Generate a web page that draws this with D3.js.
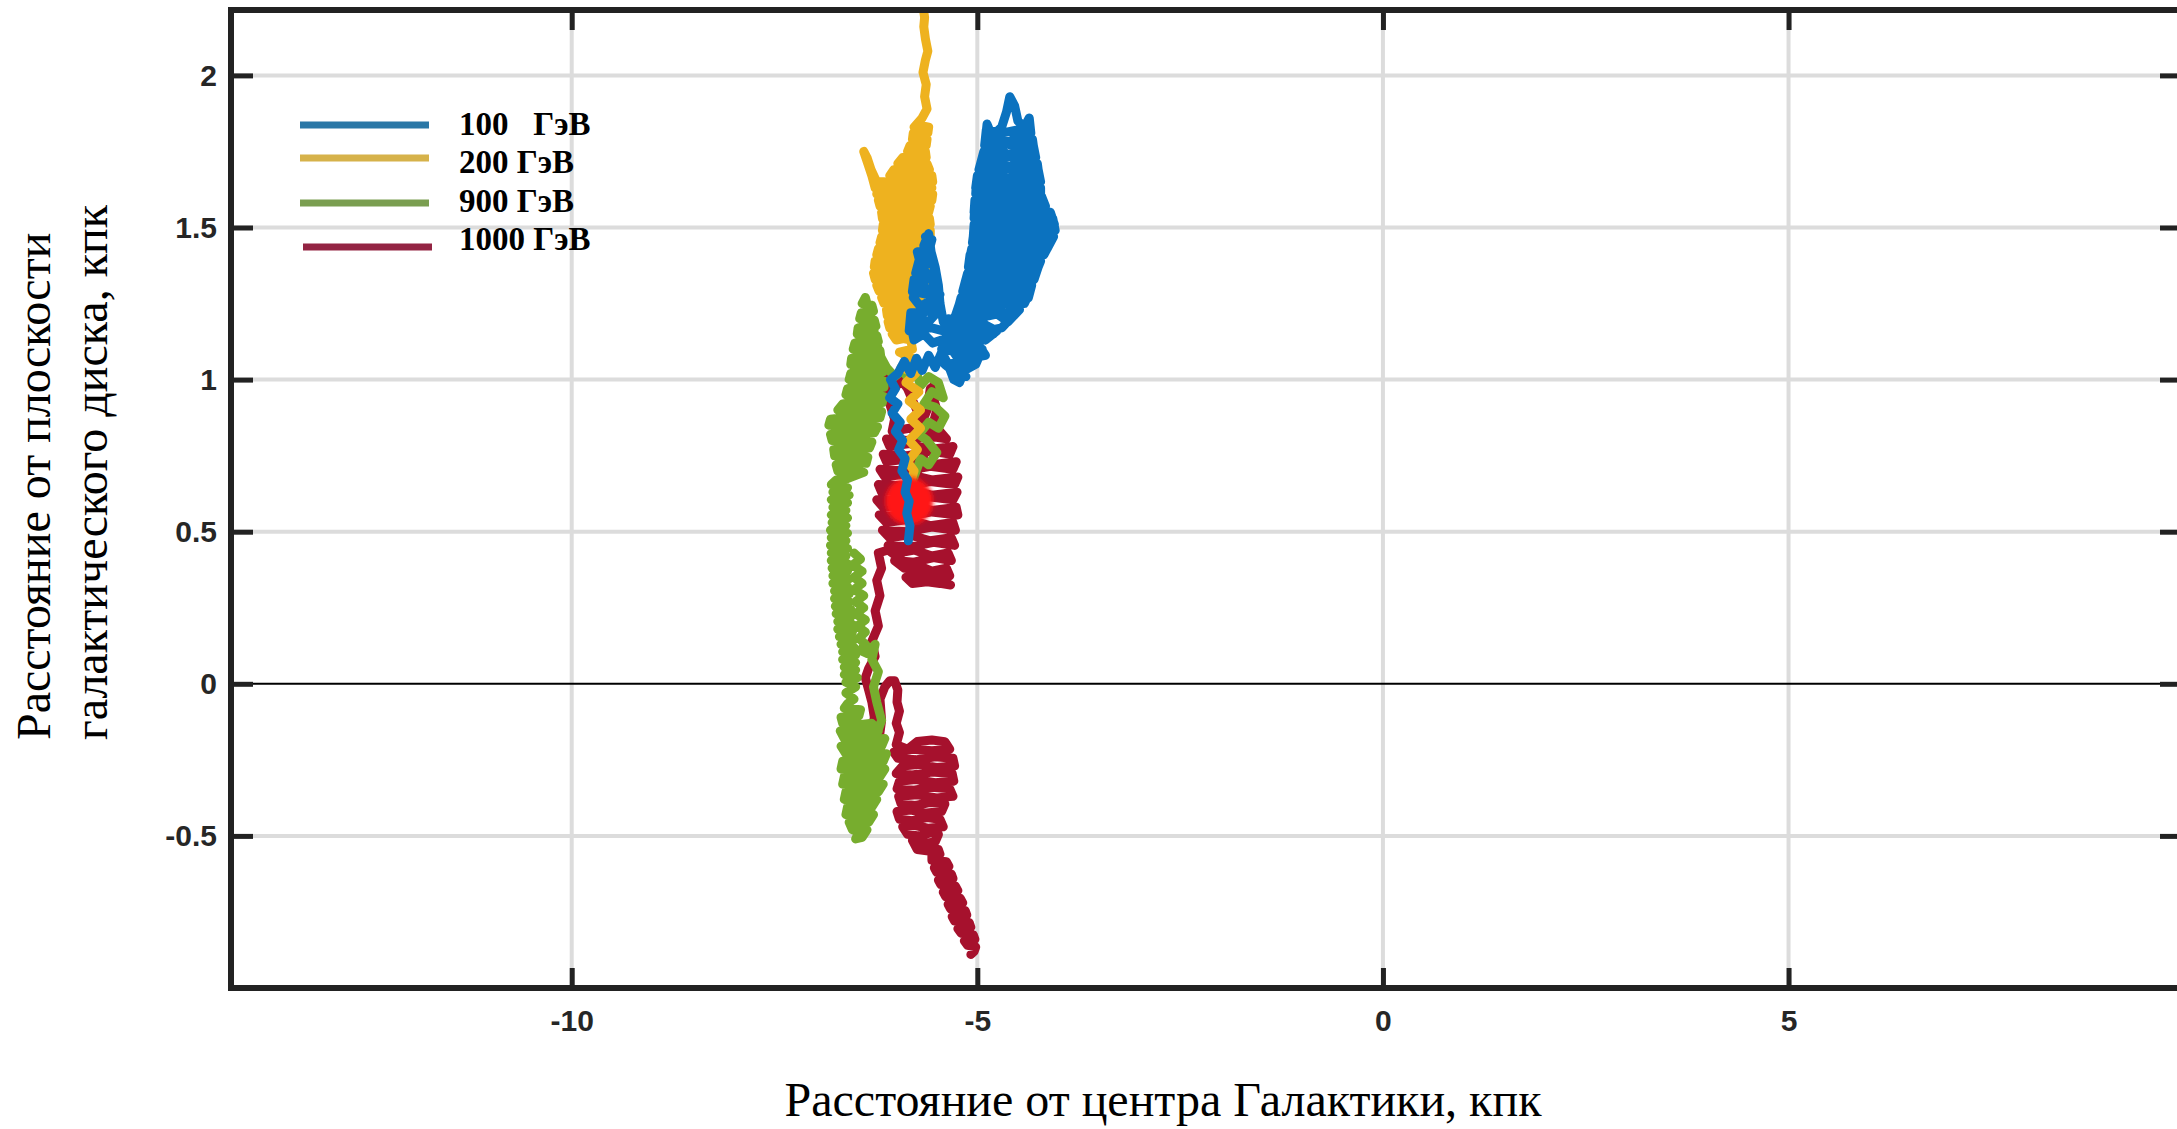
<!DOCTYPE html>
<html lang="ru">
<head>
<meta charset="UTF-8">
<title>Траектории частиц в Галактике</title>
<script src="https://d3js.org/d3.v7.min.js"></script>
<style>
    body { margin: 0; background: #fff; }
    svg { display: block; }
    .tick text { font-family: "Liberation Sans", Arial, sans-serif; font-weight: bold; font-size: 30px; fill: #262626; }
    .tick line { stroke: #222; stroke-width: 5; }
    .axis-title { font-family: "Liberation Serif", "Times New Roman", serif; font-size: 48px; fill: #000; }
    .legend-text { font-family: "Liberation Serif", "Times New Roman", serif; font-weight: bold; font-size: 33px; fill: #000; white-space: pre; }
</style>
</head>
<body>
<svg id="chart" width="2177" height="1129"></svg>
<script>
// axis ticks
const xTicks = [-10, -5, 0, 5];
const yTicks = [-0.5, 0, 0.5, 1, 1.5, 2];

// legend
const seriesNames = ["100   ГэВ", "200 ГэВ", "900 ГэВ", "1000 ГэВ"];
const legendColors = ["#2a77a6", "#d6b24a", "#7a9e50", "#932443"];
const trackColors = ["#0b72bf", "#eeb21f", "#77ad2e", "#a6112d"];

// starting point of the particles (kpc)
const source = [-5.84, 0.60];

// trajectories, [distance from centre, height above disk] in kpc
const track100 = [
    [-5.85,0.47],[-5.83,0.52],[-5.87,0.56],[-5.84,0.60],[-5.89,0.63],[-5.86,0.67],[-5.93,0.70],[-5.89,0.74],[-5.97,0.77],[-5.92,0.80],
    [-6.01,0.83],[-5.95,0.86],[-6.05,0.89],[-5.98,0.92],[-6.08,0.94],[-6.01,0.97],[-6.07,1.00],[-5.98,1.02],
    [-5.90,1.06],[-5.82,1.02],[-5.75,1.07],[-5.68,1.03],[-5.60,1.08],[-5.52,1.04],[-5.44,1.09],[-5.36,1.05],[-5.29,1.00],[-5.22,0.99],
    [-5.16,1.03],[-5.02,1.05],[-4.94,1.10],[-5.08,1.09],[-5.24,1.07],[-5.34,1.11],[-5.44,1.13],
    [-5.55,1.12],[-5.66,1.15],[-5.78,1.13],[-5.82,1.18],[-5.72,1.20],[-5.60,1.19],[-5.50,1.22],[-5.58,1.26],[-5.70,1.24],[-5.79,1.27],
    [-5.74,1.31],[-5.62,1.30],[-5.52,1.29],[-5.56,1.34],[-5.68,1.36],[-5.76,1.35],[-5.71,1.40],[-5.62,1.39],[-5.66,1.44],[-5.60,1.48],
    [-5.57,1.42],[-5.52,1.37],[-5.48,1.31],[-5.46,1.25],[-5.42,1.19],
    [-5.32,1.15],[-5.18,1.13],[-5.04,1.15],[-4.90,1.13],[-4.76,1.16],[-4.90,1.18],[-5.06,1.17],[-5.30,1.19],
    [-5.14,1.21],[-4.96,1.20],[-4.78,1.22],[-4.62,1.19],
    [-4.48,1.23],[-4.66,1.25],[-4.86,1.23],[-5.05,1.25],[-5.24,1.23],
    [-5.20,1.27],[-5.00,1.28],[-4.80,1.26],[-4.58,1.28],[-4.37,1.27],
    [-4.33,1.31],[-4.54,1.32],[-4.74,1.30],[-4.95,1.32],[-5.16,1.31],
    [-5.12,1.35],[-4.90,1.36],[-4.70,1.34],[-4.50,1.36],[-4.28,1.35],
    [-4.22,1.39],[-4.44,1.40],[-4.66,1.38],[-4.88,1.40],[-5.10,1.39],
    [-5.07,1.43],[-4.84,1.44],[-4.60,1.42],[-4.38,1.44],[-4.14,1.43],
    [-4.06,1.47],[-4.30,1.48],[-4.56,1.46],[-4.80,1.48],[-5.05,1.47],
    [-5.04,1.51],[-4.78,1.52],[-4.54,1.50],[-4.30,1.52],[-4.05,1.51],
    [-4.10,1.55],[-4.34,1.56],[-4.58,1.54],[-4.82,1.56],[-5.04,1.55],
    [-5.03,1.59],[-4.82,1.60],[-4.62,1.58],[-4.42,1.60],[-4.22,1.59],
    [-4.22,1.63],[-4.42,1.64],[-4.62,1.62],[-4.82,1.64],[-5.02,1.63],
    [-5.00,1.67],[-4.80,1.68],[-4.62,1.66],[-4.44,1.68],[-4.24,1.67],
    [-4.26,1.71],[-4.44,1.72],[-4.60,1.70],[-4.78,1.72],[-4.96,1.71],
    [-4.92,1.75],[-4.76,1.76],[-4.62,1.74],[-4.46,1.76],[-4.30,1.75],
    [-4.32,1.79],[-4.48,1.80],[-4.62,1.78],[-4.76,1.80],[-4.90,1.79],
    [-4.88,1.84],[-4.82,1.80],[-4.70,1.83],[-4.64,1.88],[-4.60,1.93],[-4.54,1.90],[-4.50,1.85],[-4.42,1.83],[-4.36,1.86],
    [-4.34,1.81],[-4.52,1.82],[-4.70,1.81],[-4.89,1.82],
    [-4.91,1.77],[-4.74,1.78],[-4.56,1.77],[-4.40,1.78],[-4.31,1.77],
    [-4.28,1.73],[-4.46,1.74],[-4.66,1.73],[-4.82,1.74],[-4.94,1.73],
    [-4.98,1.69],[-4.84,1.70],[-4.66,1.69],[-4.46,1.70],[-4.25,1.69],
    [-4.22,1.65],[-4.40,1.66],[-4.60,1.65],[-4.80,1.66],[-5.01,1.65],
    [-5.02,1.61],[-4.80,1.62],[-4.60,1.61],[-4.40,1.62],[-4.22,1.61],
    [-4.16,1.57],[-4.36,1.58],[-4.60,1.57],[-4.82,1.58],[-5.03,1.57],
    [-5.04,1.53],[-4.80,1.54],[-4.56,1.53],[-4.30,1.54],[-4.07,1.53],
    [-4.04,1.49],[-4.28,1.50],[-4.54,1.49],[-4.80,1.50],[-5.04,1.49],
    [-5.06,1.45],[-4.82,1.46],[-4.58,1.45],[-4.34,1.46],[-4.10,1.45],
    [-4.18,1.41],[-4.40,1.42],[-4.64,1.41],[-4.86,1.42],[-5.09,1.41],
    [-5.11,1.37],[-4.90,1.38],[-4.68,1.37],[-4.48,1.38],[-4.25,1.37],
    [-4.30,1.33],[-4.52,1.34],[-4.72,1.33],[-4.92,1.34],[-5.14,1.33],
    [-5.18,1.29],[-4.98,1.30],[-4.78,1.29],[-4.56,1.30],[-4.35,1.29],
    [-4.42,1.25],[-4.62,1.26],[-4.84,1.25],[-5.04,1.26],[-5.22,1.25],
    [-5.27,1.21],[-5.06,1.22],[-4.86,1.21],[-4.68,1.22],[-4.56,1.21],
    [-4.70,1.17],[-4.88,1.16],[-5.06,1.17],[-5.24,1.16],[-5.36,1.17],
    [-5.40,1.12],[-5.20,1.11],[-5.00,1.12],[-4.90,1.08],[-5.08,1.07],[-5.22,1.04],[-5.14,1.01],[-5.26,1.02],
    [-5.40,1.05],[-5.12,1.06],[-4.94,1.10],[-5.20,1.09],[-5.44,1.10],[-5.30,1.14],[-5.02,1.14],[-4.80,1.15],[-5.10,1.19],[-5.36,1.20],
    [-5.42,1.16],[-5.56,1.17],[-5.70,1.17],[-5.84,1.16],[-5.82,1.22],[-5.66,1.22],[-5.52,1.24],[-5.46,1.28],[-5.62,1.28],[-5.80,1.29],
    [-5.78,1.33],[-5.60,1.33],[-5.50,1.33],[-5.54,1.38],[-5.70,1.38],[-5.74,1.42],[-5.60,1.42],[-5.56,1.46],[-5.64,1.47]
];

const track200 = [
    [-5.88,0.60],[-5.84,0.65],[-5.78,0.70],[-5.86,0.73],[-5.74,0.77],[-5.84,0.80],[-5.70,0.84],[-5.82,0.87],[-5.70,0.90],[-5.84,0.93],
    [-5.72,0.96],[-5.88,0.99],[-5.76,1.02],[-5.94,1.04],[-5.80,1.07],[-5.96,1.09],[-5.80,1.10],
    [-5.82,1.13],[-5.91,1.135],[-6.00,1.13],
    [-6.05,1.15],[-5.92,1.155],[-5.80,1.15],
    [-5.79,1.17],[-5.94,1.175],[-6.08,1.17],
    [-6.10,1.19],[-5.94,1.195],[-5.78,1.19],
    [-5.76,1.21],[-5.94,1.215],[-6.11,1.21],
    [-6.12,1.23],[-5.93,1.235],[-5.74,1.23],
    [-5.72,1.25],[-5.94,1.255],[-6.15,1.25],
    [-6.18,1.27],[-5.94,1.275],[-5.70,1.27],
    [-5.68,1.29],[-5.94,1.295],[-6.21,1.29],
    [-6.24,1.31],[-5.95,1.315],[-5.66,1.31],
    [-5.64,1.33],[-5.95,1.335],[-6.26,1.33],
    [-6.28,1.35],[-5.95,1.355],[-5.62,1.35],
    [-5.61,1.37],[-5.94,1.375],[-6.27,1.37],
    [-6.26,1.39],[-5.93,1.395],[-5.60,1.39],
    [-5.59,1.41],[-5.92,1.415],[-6.24,1.41],
    [-6.22,1.43],[-5.90,1.435],[-5.58,1.43],
    [-5.58,1.45],[-5.89,1.455],[-6.20,1.45],
    [-6.18,1.47],[-5.88,1.475],[-5.58,1.47],
    [-5.58,1.49],[-5.88,1.495],[-6.17,1.49],
    [-6.16,1.51],[-5.87,1.515],[-5.58,1.51],
    [-5.59,1.53],[-5.88,1.535],[-6.17,1.53],
    [-6.18,1.55],[-5.89,1.555],[-5.60,1.55],
    [-5.58,1.57],[-5.89,1.575],[-6.20,1.57],
    [-6.22,1.59],[-5.89,1.595],[-5.56,1.59],
    [-5.55,1.61],[-5.90,1.615],[-6.24,1.61],
    [-5.90,1.63],[-5.56,1.63],[-5.90,1.64],
    [-6.26,1.63],[-6.30,1.67],[-6.35,1.71],[-6.40,1.75],[-6.36,1.73],[-6.31,1.69],[-6.24,1.65],[-6.14,1.65],
    [-5.85,1.655],[-5.55,1.65],
    [-5.56,1.67],[-5.82,1.675],[-6.08,1.67],
    [-6.03,1.69],[-5.81,1.695],[-5.59,1.69],
    [-5.62,1.71],[-5.80,1.715],[-5.98,1.71],
    [-5.92,1.73],[-5.78,1.735],[-5.63,1.73],
    [-5.64,1.75],[-5.75,1.755],[-5.86,1.75],
    [-5.83,1.77],[-5.73,1.775],[-5.63,1.77],
    [-5.62,1.79],[-5.71,1.795],[-5.80,1.79],
    [-5.79,1.81],[-5.70,1.815],[-5.61,1.81],
    [-5.60,1.83],[-5.69,1.835],[-5.78,1.83],
    [-5.68,1.86],[-5.62,1.89],[-5.65,1.93],[-5.63,1.97],[-5.67,2.01],[-5.64,2.05],[-5.61,2.08],[-5.64,2.12],[-5.66,2.16],[-5.65,2.19],[-5.67,2.23]
];

const track900 = [
    [-5.86,0.62],[-5.78,0.68],[-5.70,0.74],[-5.60,0.72],[-5.50,0.76],[-5.62,0.80],[-5.72,0.82],[-5.60,0.86],[-5.48,0.84],[-5.40,0.88],
    [-5.52,0.91],[-5.66,0.92],[-5.56,0.96],[-5.42,0.94],[-5.48,0.99],[-5.60,1.01],[-5.70,0.98],[-5.76,1.03],[-5.84,1.00],
    [-5.92,1.03],[-6.02,1.01],[-6.12,1.04],[-6.20,1.08],[-6.26,1.14],[-6.30,1.20],[-6.36,1.25],[-6.38,1.27],
    [-6.42,1.25],[-6.30,1.245],
    [-6.28,1.225],[-6.43,1.22],
    [-6.45,1.20],[-6.27,1.195],
    [-6.25,1.175],[-6.36,1.18],[-6.47,1.17],
    [-6.48,1.15],[-6.36,1.155],[-6.24,1.145],
    [-6.22,1.125],[-6.36,1.13],[-6.51,1.12],
    [-6.53,1.10],[-6.36,1.105],[-6.20,1.095],
    [-6.19,1.075],[-6.38,1.08],[-6.55,1.07],
    [-6.56,1.05],[-6.36,1.055],[-6.18,1.045],
    [-6.16,1.025],[-6.36,1.03],[-6.56,1.02],
    [-6.58,1.00],[-6.36,1.005],[-6.15,0.995],
    [-6.15,0.975],[-6.38,0.98],[-6.60,0.97],
    [-6.62,0.95],[-6.38,0.955],[-6.16,0.945],
    [-6.17,0.925],[-6.42,0.93],[-6.66,0.92],
    [-6.72,0.90],[-6.46,0.905],[-6.18,0.895],
    [-6.20,0.875],[-6.50,0.88],[-6.81,0.87],
    [-6.83,0.85],[-6.52,0.855],[-6.23,0.845],
    [-6.27,0.825],[-6.54,0.83],[-6.81,0.82],
    [-6.79,0.80],[-6.54,0.805],[-6.30,0.795],
    [-6.33,0.775],[-6.56,0.78],[-6.77,0.77],
    [-6.76,0.75],[-6.56,0.755],[-6.35,0.745],
    [-6.37,0.725],[-6.56,0.73],[-6.74,0.72],
    [-6.72,0.70],[-6.56,0.705],[-6.40,0.695],
    [-6.60,0.675],[-6.74,0.67],
    [-6.80,0.655],[-6.60,0.645],[-6.78,0.63],[-6.58,0.62],[-6.80,0.605],[-6.60,0.595],[-6.78,0.58],[-6.62,0.57],[-6.80,0.555],[-6.60,0.545],
    [-6.79,0.53],[-6.62,0.52],[-6.81,0.505],[-6.60,0.495],[-6.80,0.48],[-6.62,0.47],[-6.81,0.455],[-6.60,0.445],[-6.80,0.43],[-6.62,0.42],
    [-6.80,0.405],[-6.60,0.395],[-6.79,0.38],[-6.60,0.37],[-6.78,0.355],[-6.58,0.345],[-6.78,0.33],[-6.60,0.32],[-6.76,0.305],[-6.58,0.295],
    [-6.76,0.28],[-6.58,0.27],[-6.75,0.255],[-6.56,0.245],[-6.74,0.23],[-6.56,0.22],[-6.72,0.205],[-6.54,0.195],[-6.72,0.18],[-6.54,0.17],
    [-6.70,0.155],[-6.52,0.145],[-6.68,0.13],[-6.52,0.12],[-6.66,0.105],[-6.50,0.095],[-6.66,0.08],[-6.50,0.07],[-6.64,0.055],[-6.50,0.045],
    [-6.64,0.03],[-6.48,0.02],[-6.62,0.005],[-6.50,-0.01],[-6.62,-0.03],[-6.52,-0.05],[-6.60,-0.065],
    [-6.64,-0.08],[-6.44,-0.085],
    [-6.46,-0.105],[-6.68,-0.11],
    [-6.66,-0.13],[-6.48,-0.135],[-6.30,-0.13],
    [-6.22,-0.155],[-6.46,-0.16],[-6.69,-0.155],
    [-6.64,-0.18],[-6.40,-0.185],[-6.14,-0.18],
    [-6.18,-0.205],[-6.44,-0.21],[-6.68,-0.205],
    [-6.62,-0.23],[-6.38,-0.235],[-6.12,-0.23],
    [-6.16,-0.255],[-6.40,-0.26],[-6.66,-0.255],
    [-6.68,-0.28],[-6.42,-0.285],[-6.14,-0.28],
    [-6.20,-0.305],[-6.42,-0.31],[-6.64,-0.305],
    [-6.66,-0.33],[-6.40,-0.335],[-6.16,-0.33],
    [-6.22,-0.355],[-6.42,-0.36],[-6.62,-0.355],
    [-6.64,-0.38],[-6.44,-0.385],[-6.24,-0.38],
    [-6.30,-0.405],[-6.46,-0.41],[-6.60,-0.405],
    [-6.62,-0.43],[-6.44,-0.435],[-6.28,-0.43],
    [-6.34,-0.455],[-6.46,-0.46],[-6.58,-0.455],
    [-6.54,-0.48],[-6.44,-0.485],[-6.36,-0.48],
    [-6.42,-0.505],[-6.50,-0.51],
    [-6.30,-0.40],[-6.20,-0.30],
    [-6.20,-0.24],[-6.26,-0.18],[-6.18,-0.12],[-6.24,-0.06],[-6.28,-0.01],[-6.22,0.04],[-6.30,0.08],[-6.26,0.13],
    [-6.36,0.10],[-6.44,0.11],[-6.38,0.13],[-6.46,0.15],[-6.38,0.17],[-6.48,0.19],[-6.38,0.21],[-6.50,0.23],[-6.40,0.25],[-6.50,0.27],
    [-6.40,0.29],[-6.52,0.31],[-6.42,0.33],[-6.52,0.35],[-6.42,0.37],[-6.54,0.39],[-6.44,0.41],[-6.52,0.43]
];

const track1000 = [
    [-5.88,0.60],[-5.80,0.66],[-5.70,0.72],[-5.62,0.78],[-5.56,0.84],[-5.50,0.90],[-5.55,0.95],[-5.49,0.99],[-5.58,0.97],[-5.62,0.90],
    [-5.68,0.86],[-5.78,0.92],[-5.86,0.97],[-5.94,1.00],[-6.02,0.97],[-6.10,1.02],[-6.14,0.98],[-6.08,0.92],[-6.02,0.87],
    [-6.05,0.83],[-5.84,0.84],[-5.64,0.82],[-5.46,0.83],
    [-5.38,0.805],[-5.62,0.815],[-5.86,0.80],[-6.12,0.805],
    [-6.08,0.78],[-5.84,0.79],[-5.58,0.77],[-5.30,0.78],
    [-5.34,0.755],[-5.58,0.765],[-5.86,0.75],[-6.16,0.755],
    [-6.12,0.73],[-5.86,0.74],[-5.56,0.72],[-5.26,0.73],
    [-5.30,0.705],[-5.58,0.715],[-5.88,0.70],[-6.20,0.705],
    [-6.14,0.68],[-5.88,0.69],[-5.56,0.67],[-5.24,0.68],
    [-5.28,0.655],[-5.58,0.665],[-5.90,0.65],[-6.22,0.655],
    [-6.18,0.63],[-5.90,0.64],[-5.56,0.62],[-5.25,0.63],
    [-5.30,0.605],[-5.60,0.615],[-5.92,0.60],[-6.24,0.605],
    [-6.16,0.58],[-5.88,0.59],[-5.56,0.57],[-5.26,0.58],
    [-5.24,0.555],[-5.56,0.565],[-5.88,0.55],[-6.21,0.555],
    [-6.12,0.53],[-5.86,0.54],[-5.58,0.52],[-5.30,0.53],
    [-5.27,0.505],[-5.56,0.515],[-5.86,0.50],[-6.17,0.505],
    [-6.08,0.48],[-5.84,0.49],[-5.58,0.47],[-5.32,0.48],
    [-5.28,0.455],[-5.54,0.465],[-5.82,0.45],[-6.10,0.455],
    [-5.98,0.43],[-5.78,0.44],[-5.56,0.42],[-5.36,0.43],
    [-5.32,0.405],[-5.54,0.415],[-5.78,0.40],[-6.02,0.405],
    [-5.90,0.38],[-5.74,0.39],[-5.56,0.37],[-5.38,0.38],
    [-5.34,0.355],[-5.50,0.36],[-5.64,0.35],[-5.80,0.36],[-5.88,0.35],
    [-5.80,0.33],[-5.62,0.335],[-5.46,0.33],[-5.33,0.325],
    [-5.60,0.36],[-5.90,0.40],[-6.10,0.44],[-6.22,0.43],
    [-6.18,0.38],[-6.24,0.34],[-6.20,0.29],[-6.26,0.24],[-6.22,0.19],[-6.30,0.14],[-6.26,0.09],[-6.34,0.05],[-6.38,0.02],[-6.34,-0.02],
    [-6.30,-0.06],[-6.27,-0.11],[-6.30,-0.16],[-6.24,-0.20],[-6.26,-0.25],[-6.20,-0.28],[-6.22,-0.20],[-6.18,-0.12],[-6.20,-0.05],[-6.14,-0.01],
    [-6.08,0.01],[-6.02,0.01],[-5.98,-0.02],[-5.99,-0.06],[-5.96,-0.09],[-6.00,-0.13],[-5.96,-0.16],
    [-6.00,-0.20],[-5.86,-0.215],[-5.74,-0.19],[-5.56,-0.185],[-5.40,-0.19],
    [-5.34,-0.215],[-5.56,-0.22],[-5.80,-0.215],[-6.03,-0.225],
    [-5.98,-0.245],[-5.76,-0.25],[-5.52,-0.24],[-5.30,-0.245],
    [-5.28,-0.27],[-5.50,-0.275],[-5.74,-0.265],[-5.92,-0.27],
    [-6.00,-0.295],[-5.80,-0.30],[-5.56,-0.29],[-5.31,-0.295],
    [-5.29,-0.32],[-5.52,-0.325],[-5.76,-0.315],[-5.96,-0.32],
    [-5.99,-0.345],[-5.78,-0.35],[-5.56,-0.34],[-5.34,-0.345],
    [-5.30,-0.37],[-5.50,-0.375],[-5.74,-0.365],[-5.97,-0.37],
    [-5.94,-0.395],[-5.76,-0.40],[-5.58,-0.39],[-5.40,-0.395],
    [-5.44,-0.42],[-5.62,-0.425],[-5.82,-0.415],[-5.99,-0.42],
    [-5.96,-0.445],[-5.80,-0.45],[-5.62,-0.44],[-5.46,-0.445],
    [-5.42,-0.47],[-5.60,-0.475],[-5.78,-0.465],[-5.92,-0.47],
    [-5.86,-0.495],[-5.72,-0.50],[-5.58,-0.49],[-5.48,-0.495],
    [-5.52,-0.52],[-5.66,-0.525],[-5.80,-0.515],
    [-5.74,-0.545],[-5.60,-0.55],[-5.48,-0.545],
    [-5.46,-0.56],[-5.56,-0.565],
    [-5.56,-0.58],[-5.38,-0.585],[-5.35,-0.60],[-5.53,-0.605],[-5.50,-0.62],[-5.32,-0.625],[-5.30,-0.64],[-5.48,-0.645],
    [-5.45,-0.66],[-5.27,-0.665],[-5.24,-0.68],[-5.42,-0.685],[-5.39,-0.70],[-5.21,-0.705],[-5.18,-0.72],[-5.36,-0.725],
    [-5.33,-0.74],[-5.15,-0.745],[-5.13,-0.76],[-5.31,-0.765],[-5.28,-0.78],[-5.10,-0.785],[-5.08,-0.80],[-5.24,-0.805],
    [-5.20,-0.82],[-5.05,-0.825],[-5.03,-0.84],[-5.16,-0.845],[-5.12,-0.86],[-5.02,-0.865],[-5.04,-0.88],[-5.08,-0.89]
];

const tracks = [track100, track200, track900, track1000];

const svg = d3.select("#chart");
const plotLeft = 231, plotRight = 2182, plotTop = 10, plotBottom = 988;

const x = d3.scaleLinear().domain([-14.2, 9.85]).range([plotLeft, plotRight]);
const y = d3.scaleLinear().domain([-1, 2.215]).range([plotBottom, plotTop]);

svg.append("defs").html(
    '<clipPath id="plotClip"><rect x="' + plotLeft + '" y="' + plotTop + '" width="' + (plotRight - plotLeft) + '" height="' + (plotBottom - plotTop) + '"></rect></clipPath>' +
    '<filter id="soft" x="-50%" y="-50%" width="200%" height="200%"><feGaussianBlur stdDeviation="2"></feGaussianBlur></filter>'
);

// grid
const grid = svg.append("g");
grid.selectAll(".vgrid").data(xTicks).enter().append("line")
    .attr("x1", d => x(d)).attr("x2", d => x(d))
    .attr("y1", plotTop).attr("y2", plotBottom)
    .attr("stroke", "#dcdcdc").attr("stroke-width", 4);
grid.selectAll(".hgrid").data(yTicks.filter(d => d !== 0)).enter().append("line")
    .attr("x1", plotLeft).attr("x2", plotRight)
    .attr("y1", d => y(d)).attr("y2", d => y(d))
    .attr("stroke", "#dcdcdc").attr("stroke-width", 4);
grid.append("line")
    .attr("x1", plotLeft).attr("x2", plotRight)
    .attr("y1", y(0)).attr("y2", y(0))
    .attr("stroke", "#000").attr("stroke-width", 2);

// trajectories
const line = d3.line().x(d => x(d[0])).y(d => y(d[1]));
const plot = svg.append("g").attr("clip-path", "url(#plotClip)");

function drawTrack(i) {
    plot.append("path")
        .datum(tracks[i])
        .attr("d", line)
        .attr("fill", "none")
        .attr("stroke", trackColors[i])
        .attr("stroke-width", 9)
        .attr("stroke-linejoin", "round")
        .attr("stroke-linecap", "round");
}

drawTrack(3);
drawTrack(2);
drawTrack(1);
plot.append("circle")
    .attr("cx", x(source[0])).attr("cy", y(source[1]))
    .attr("r", 24)
    .attr("fill", "#ff1212")
    .attr("filter", "url(#soft)");
drawTrack(0);

// axes
const axB = svg.append("g").attr("transform", `translate(0,${plotBottom})`)
    .call(d3.axisBottom(x).tickValues(xTicks).tickSize(-20).tickPadding(22).tickFormat(d => String(d)));
const axT = svg.append("g").attr("transform", `translate(0,${plotTop})`)
    .call(d3.axisTop(x).tickValues(xTicks).tickSize(-20).tickFormat(""));
const axL = svg.append("g").attr("transform", `translate(${plotLeft},0)`)
    .call(d3.axisLeft(y).tickValues(yTicks).tickSize(-22).tickPadding(14).tickFormat(d => String(d)));
const axR = svg.append("g").attr("transform", `translate(${plotRight},0)`)
    .call(d3.axisRight(y).tickValues(yTicks).tickSize(-22).tickFormat(""));
[axB, axT, axL, axR].forEach(a => a.select(".domain").remove());

// frame
svg.append("rect")
    .attr("x", plotLeft).attr("y", plotTop)
    .attr("width", plotRight - plotLeft).attr("height", plotBottom - plotTop)
    .attr("fill", "none").attr("stroke", "#222").attr("stroke-width", 6);

// legend
const legendRows = [125, 158, 203, 247];
const legendText = [135, 173, 212, 250];
const legend = svg.append("g");
legend.selectAll("line").data(seriesNames).enter().append("line")
    .attr("x1", (d, i) => i === 3 ? 303 : 300)
    .attr("x2", (d, i) => i === 3 ? 432 : 429)
    .attr("y1", (d, i) => legendRows[i]).attr("y2", (d, i) => legendRows[i])
    .attr("stroke", (d, i) => legendColors[i]).attr("stroke-width", 7);
legend.selectAll("text").data(seriesNames).enter().append("text")
    .attr("class", "legend-text")
    .attr("x", 459).attr("y", (d, i) => legendText[i])
    .text(d => d);

// axis titles
svg.append("text").attr("class", "axis-title")
    .attr("x", 1163).attr("y", 1116).attr("text-anchor", "middle")
    .text("Расстояние от центра Галактики, кпк");
const yTitle = svg.append("text").attr("class", "axis-title")
    .attr("transform", "translate(50,740) rotate(-90)");
yTitle.append("tspan").attr("x", 0).attr("y", 0).text("Расстояние от плоскости");
yTitle.append("tspan").attr("x", 0).attr("y", 57).text("галактического диска, кпк");
</script>
</body>
</html>
